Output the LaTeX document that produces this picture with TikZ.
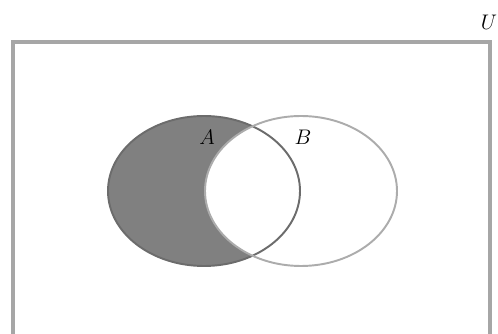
\documentclass[tikz,border=0pt]{standalone}
\usepackage{amsmath,amssymb}
\usepackage{xcolor}

\begin{document}
\begin{tikzpicture}[x=0.02cm,y=-0.02cm,font=\fontsize{12}{14}\selectfont,line cap=round]
\useasboundingbox (0,0) rectangle (498,334);
\begin{scope}
\clip (0,0) rectangle (498,334);
% shaded part: A without B
\fill[gray] (204,191) ellipse [x radius=96,y radius=75];
\fill[white] (301,191) ellipse [x radius=96,y radius=75];
\draw[gray!85!black,line width=1.1pt] (204,191) ellipse [x radius=96,y radius=75];
\draw[gray!65,line width=1.1pt] (301,191) ellipse [x radius=96,y radius=75];
\draw[gray!70,line width=2pt] (13,42) rectangle (490,345);
\end{scope}
\node (labA) at (207,137) {$A$};
\node (labB) at (303,137) {$B$};
\node (labU) at (489,22) {$U$};
\end{tikzpicture}
\end{document}
